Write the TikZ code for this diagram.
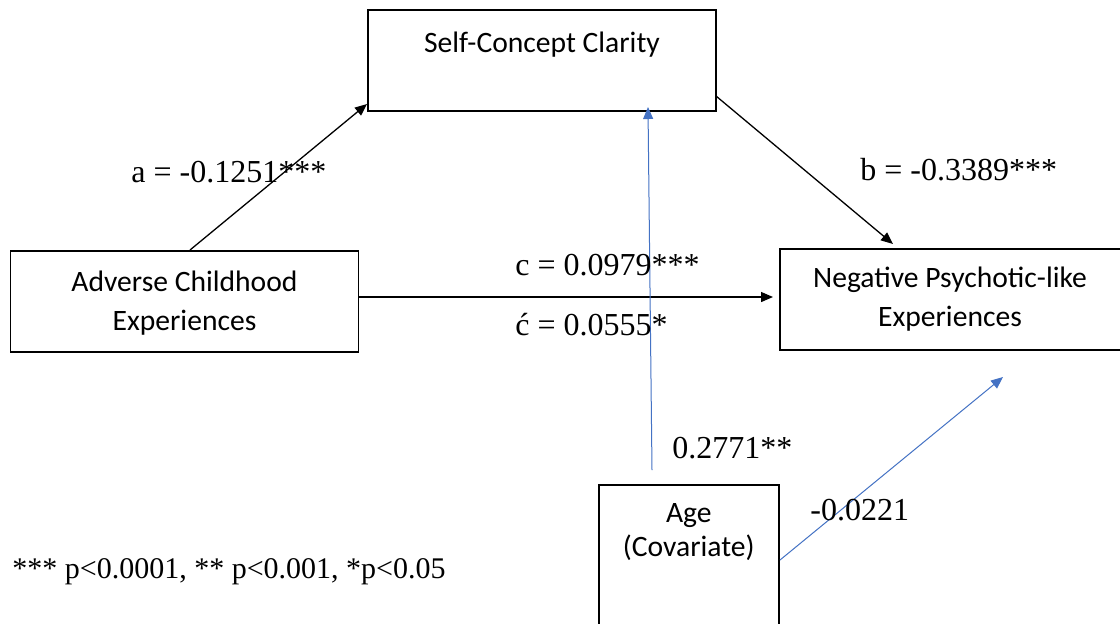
\documentclass[tikz,border=0pt]{standalone}
\usepackage{fontspec}
\setmainfont{Liberation Serif}
\newfontfamily\boxfont{Carlito}
\usetikzlibrary{arrows.meta,positioning}

\tikzset{
  box/.style={draw, line width=0.8pt, minimum width=174pt, minimum height=50.5pt, inner sep=0pt},
  boxtext/.style={font=\boxfont\fontsize{14.8}{19.5}\selectfont, align=center, inner sep=0pt},
  coef/.style={font=\fontsize{16}{18}\selectfont, anchor=west, inner sep=0pt},
  path/.style={line width=0.65pt, -{Triangle[length=6pt,width=5pt]}},
  covpath/.style={line width=0.5pt, color=covblue, -{Triangle[length=6pt,width=5pt]}}
}
\definecolor{covblue}{HTML}{4472C4}

\begin{document}
\begin{tikzpicture}[
            x=0.5pt,   % 1 px = 0.5pt
            y=-0.5pt   % y は下向き
        ]
            \useasboundingbox[fill=white] (0,0) rectangle (1120,623);
            \clip (0,0) rectangle (1120,623);

            % 箱
            \node[box] (scc) at (542,60.5) {};
            \node[boxtext, below=11pt] (scctext) at (scc.north) {Self-Concept Clarity};
            \node[box] (ace) at (184.5,301.5) {};
            \node[boxtext] (acetext) at (184.5,303) {Adverse Childhood\\Experiences};
            \node[box, minimum width=200pt, anchor=north west] (nple) at (779,248) {};
            \node[boxtext] (npletext) at (950,299.5) {Negative Psychotic-like\\Experiences};
            \node[box, minimum width=90pt, minimum height=80pt, anchor=north west] (age) at (598,484) {};
            \node[boxtext, below=9.5pt] (agetext) at (age.north) {Age\\[-2.5pt](Covariate)};

            % 端点
            \coordinate (aStart) at (190,250);
            \coordinate (aEnd) at (367,104);
            \coordinate (bStart) at (716,96);
            \coordinate (bEnd) at (893,244);
            \coordinate (cStart) at (359,297);
            \coordinate (cEnd) at (773,297);
            \coordinate (covStart) at (652,470);
            \coordinate (covEnd) at (648,107);
            \coordinate (covStartB) at (780,560);
            \coordinate (covEndB) at (1003,377);

            % 経路
            \draw[path] (aStart) -- (aEnd);
            \draw[path] (bStart) -- (bEnd);
            \draw[path] (cStart) -- (cEnd);
            \draw[covpath] (covStart) -- (covEnd);
            \draw[covpath] (covStartB) -- (covEndB);

            % 係数
            \node[coef] (alabel) at (131,172) {a = -0.1251***};
            \node[coef] (blabel) at (860,170) {b = -0.3389***};
            \node[coef] (clabel) at (515,265) {c = 0.0979***};
            \node[coef] (cplabel) at (515,325) {ć = 0.0555*};
            \node[coef] (agelabel) at (672,448) {0.2771**};
            \node[coef] (agelabelB) at (810,510) {-0.0221};
            \node[coef, font=\fontsize{15}{17}\selectfont] (note) at (12,572) {*** p<0.0001, ** p<0.001, *p<0.05};
        \end{tikzpicture}
\end{document}
